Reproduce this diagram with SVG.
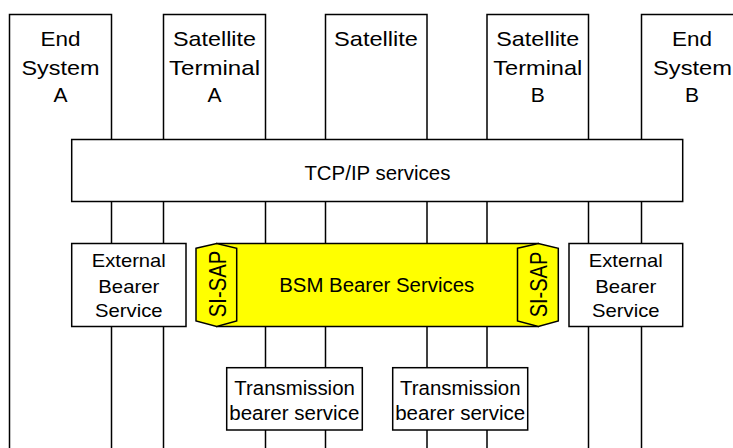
<svg xmlns="http://www.w3.org/2000/svg" width="733" height="448" viewBox="0 0 733 448">
<style>
.box{fill:#fff;stroke:#000;stroke-width:1.5}
.y{fill:#ffff00;stroke:#000;stroke-width:1.5}
text{font-family:"Liberation Sans",Arial,Helvetica,sans-serif;fill:#000;text-anchor:middle}
.t21{font-size:21px}
.t20{font-size:20.5px}
.t18{font-size:18.5px}
.bsm{font-size:19.5px}
.sap{font-size:24px}
</style>
<rect width="733" height="448" fill="#fff"/>
<g id="columns">
  <g id="end-system-a">
    <rect class="box" x="9.5" y="14.5" width="102" height="460"/>
    <text class="t21" x="60.5" y="46" textLength="40" lengthAdjust="spacingAndGlyphs">End</text>
    <text class="t21" x="60.5" y="75" textLength="78" lengthAdjust="spacingAndGlyphs">System</text>
    <text class="t21" x="60.5" y="102">A</text>
  </g>
  <g id="satellite-terminal-a">
    <rect class="box" x="163.5" y="14.5" width="102" height="460"/>
    <text class="t21" x="214.5" y="46" textLength="83" lengthAdjust="spacingAndGlyphs">Satellite</text>
    <text class="t21" x="214.5" y="75" textLength="91" lengthAdjust="spacingAndGlyphs">Terminal</text>
    <text class="t21" x="214.5" y="102">A</text>
  </g>
  <g id="satellite">
    <rect class="box" x="325.5" y="14.5" width="101.5" height="460"/>
    <text class="t21" x="376" y="46" textLength="84" lengthAdjust="spacingAndGlyphs">Satellite</text>
  </g>
  <g id="satellite-terminal-b">
    <rect class="box" x="487" y="14.5" width="101.5" height="460"/>
    <text class="t21" x="537.8" y="46" textLength="83" lengthAdjust="spacingAndGlyphs">Satellite</text>
    <text class="t21" x="537.8" y="75" textLength="89" lengthAdjust="spacingAndGlyphs">Terminal</text>
    <text class="t21" x="537.8" y="102">B</text>
  </g>
  <g id="end-system-b">
    <rect class="box" x="641.5" y="14.5" width="102" height="460"/>
    <text class="t21" x="692" y="46" textLength="40" lengthAdjust="spacingAndGlyphs">End</text>
    <text class="t21" x="692.5" y="75" textLength="79" lengthAdjust="spacingAndGlyphs">System</text>
    <text class="t21" x="692" y="102">B</text>
  </g>
</g>
<g id="tcp-ip-services">
  <rect class="box" x="71.7" y="139.5" width="611" height="62"/>
  <text class="t20" x="377.4" y="179.5" textLength="146" lengthAdjust="spacingAndGlyphs">TCP/IP services</text>
</g>
<g id="external-bearer-a">
  <rect class="box" x="71.7" y="243.5" width="114.3" height="83"/>
  <text class="t18" x="128.8" y="266.7" textLength="74" lengthAdjust="spacingAndGlyphs">External</text>
  <text class="t18" x="128.8" y="293.3" textLength="61" lengthAdjust="spacingAndGlyphs">Bearer</text>
  <text class="t18" x="128.8" y="317.3" textLength="67.5" lengthAdjust="spacingAndGlyphs">Service</text>
</g>
<g id="bsm-bearer-services">
  <rect class="y" x="216.7" y="243.5" width="321.6" height="83"/>
  <text class="bsm" x="376.7" y="292.3" textLength="195" lengthAdjust="spacingAndGlyphs">BSM Bearer Services</text>
</g>
<g id="si-sap-a">
  <polygon class="y" points="196,248.3 216.7,243.5 236.7,248.3 236.7,321 216.7,326.5 196,321"/>
  <text class="sap" transform="translate(225.6,284) rotate(-90)" textLength="66.5" lengthAdjust="spacingAndGlyphs">SI-SAP</text>
</g>
<g id="si-sap-b">
  <polygon class="y" points="517.5,248.3 538.3,243.5 558.3,248.3 558.3,321 538.3,326.5 517.5,321"/>
  <text class="sap" transform="translate(547.2,284.5) rotate(-90)" textLength="65.5" lengthAdjust="spacingAndGlyphs">SI-SAP</text>
</g>
<g id="external-bearer-b">
  <rect class="box" x="569" y="243.5" width="113.7" height="83"/>
  <text class="t18" x="625.8" y="266.7" textLength="74" lengthAdjust="spacingAndGlyphs">External</text>
  <text class="t18" x="625.8" y="293.3" textLength="61" lengthAdjust="spacingAndGlyphs">Bearer</text>
  <text class="t18" x="625.8" y="317.3" textLength="67.5" lengthAdjust="spacingAndGlyphs">Service</text>
</g>
<g id="transmission-a">
  <rect class="box" x="226.7" y="367.7" width="135.6" height="62.3"/>
  <text class="t20" x="294.6" y="395" textLength="120.5" lengthAdjust="spacingAndGlyphs">Transmission</text>
  <text class="t20" x="294.3" y="420" textLength="130" lengthAdjust="spacingAndGlyphs">bearer service</text>
</g>
<g id="transmission-b">
  <rect class="box" x="392.7" y="367.7" width="135" height="62.3"/>
  <text class="t20" x="460.3" y="395" textLength="120.5" lengthAdjust="spacingAndGlyphs">Transmission</text>
  <text class="t20" x="460.2" y="420" textLength="130" lengthAdjust="spacingAndGlyphs">bearer service</text>
</g>
<g id="connectors"/>
</svg>
